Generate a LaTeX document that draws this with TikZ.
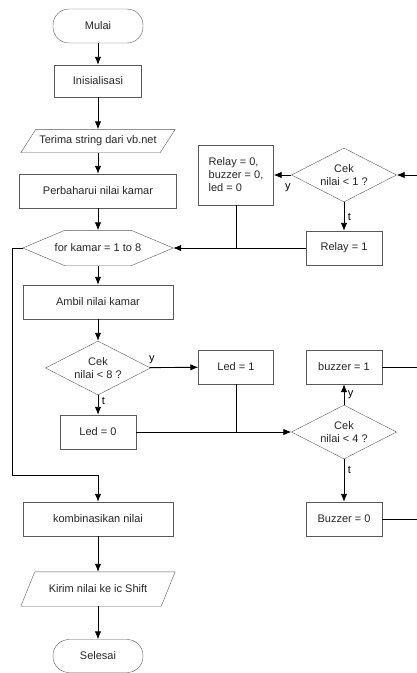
\documentclass[tikz,border=0pt]{standalone}
\usepackage{fontspec}
\setmainfont{Liberation Sans}
\usetikzlibrary{arrows.meta,shapes.geometric,positioning}
\tikzset{>={Latex[length=8pt,width=6.5pt]}}

\begin{document}
\begin{tikzpicture}[x=1pt, y=1pt,
	term/.style={rectangle, rounded corners=16pt, draw=black!65, minimum width=90pt, minimum height=34pt},
	proc/.style={rectangle, draw=black!65, minimum width=76pt, minimum height=34pt, inner sep=2pt},
	io/.style={rectangle, minimum width=154pt, inner sep=0pt},
	decision/.style={diamond, draw=black!65, aspect=2, minimum width=105pt, minimum height=54pt, inner sep=0pt, align=center},
	loopbox/.style={rectangle, minimum width=150pt, minimum height=35pt, inner sep=0pt},
	flow/.style={line width=0.9pt, black},
	node distance=60pt, on grid, auto, font=\fontsize{11}{13}\selectfont, text=black!85]
		\useasboundingbox (0,0) rectangle (417,-673);
		\node[term] (mulai) at (98,-26) {Mulai};
		\node[proc, minimum width=87pt, minimum height=32pt] (init) [below=55pt of mulai] {Inisialisasi};
		\node[io, minimum height=23pt] (terima) [below=60pt of init] {Terima string dari vb.net};
		\node[proc, minimum width=157pt] (perbarui) [below=50pt of terima] {Perbaharui nilai kamar};
		\node[loopbox] (kamar) [below=57pt of perbarui] {for kamar = 1 to 8};
		\node[proc, minimum width=150pt] (ambil) [below=54pt of kamar] {Ambil nilai kamar};
		\node[decision] (cek8) [below=66pt of ambil] {Cek\\nilai < 8 ?};
		\node[proc] (led0) [below=64pt of cek8] {Led = 0};
		\node[proc, minimum width=150pt] (kombinasi) [below=87pt of led0] {kombinasikan nilai};
		\node[io, minimum height=34pt] (kirim) [below=70pt of kombinasi] {Kirim nilai ke ic Shift};
		\node[term, minimum height=33pt] (selesai) [below=67pt of kirim] {Selesai};

		\node[proc] (relay1) [right=246pt of kamar] {Relay = 1};
		\node[decision] (cek1) [above=73pt of relay1] {Cek\\nilai < 1 ?};
		\node[proc, minimum width=75pt, minimum height=60pt, align=left] (relay0) [left=108pt of cek1] {Relay = 0,\\buzzer = 0,\\led = 0};
		\node[decision] (cek4) [right=246pt of led0] {Cek\\nilai < 4 ?};
		\node[proc] (buzzer1) [above=65pt of cek4] {buzzer = 1};
		\node[proc] (buzzer0) [below=87pt of cek4] {Buzzer = 0};
		\node[proc, minimum width=75pt] (led1) [left=108pt of buzzer1] {Led = 1};

		\draw[black!65] (terima.south west) -- ([xshift=15pt]terima.north west) -- (terima.north east) -- ([xshift=-15pt]terima.south east) -- cycle;
		\draw[black!65] (kirim.south west) -- ([xshift=14pt]kirim.north west) -- (kirim.north east) -- ([xshift=-14pt]kirim.south east) -- cycle;
		\draw[black!65] (kamar.west) -- ([xshift=42pt]kamar.north west) -- ([xshift=-42pt]kamar.north east) -- (kamar.east) -- ([xshift=-42pt]kamar.south east) -- ([xshift=42pt]kamar.south west) -- cycle;

		\coordinate[right=73pt of cek1] (kanan1);
		\coordinate[right=73pt of buzzer1] (kanan2);
		\coordinate[right=73pt of buzzer0] (kanan3);
		\coordinate[left=86pt of kamar] (kiri);
		\coordinate[above=44pt of kombinasi] (bawah);
		\coordinate (gabung1) at (relay0.south |- kamar);
		\coordinate (gabung2) at (led1.south |- led0);

		\path[->, flow]
			(mulai) edge (init) (init) edge (terima) (terima) edge (perbarui) (perbarui) edge (kamar) (kamar) edge (ambil) (ambil) edge (cek8)
			(cek8) edge node [above, pos=0.04] {y} (led1) edge node [right, pos=0.3] {t} (led0)
			(led0) edge (cek4)
			(kanan1) edge (cek1)
			(cek1) edge node [below=5pt, pos=0.2] {y} (relay0) edge node [right] {t} (relay1)
			(relay1) edge (kamar)
			(cek4) edge node [right] {y} (buzzer1) edge node [right, pos=0.25] {t} (buzzer0)
			(kombinasi) edge (kirim) (kirim) edge (selesai);
		\draw[flow] (relay0) -- (gabung1);
		\draw[flow] (led1) -- (gabung2);
		\draw[flow] (buzzer1) -- (kanan2);
		\draw[flow] (buzzer0) -- (kanan3);
		\draw[->, flow] (kamar.west) -- (kiri) |- (bawah) -- (kombinasi);
	\end{tikzpicture}
\end{document}
